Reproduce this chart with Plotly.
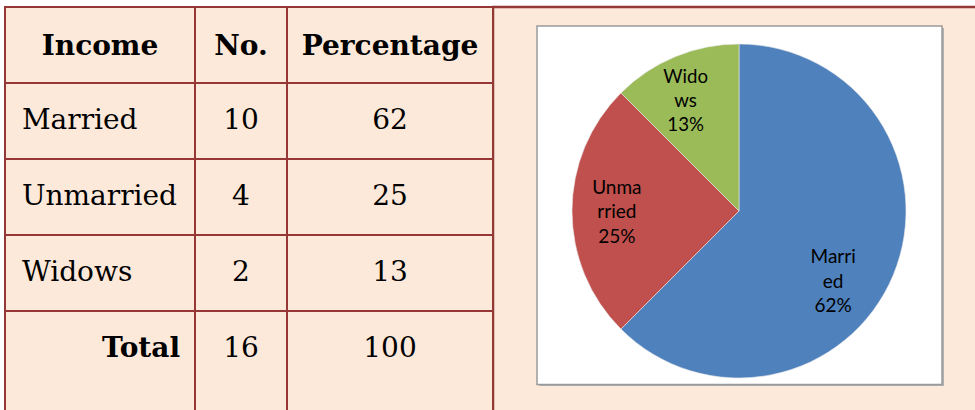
import plotly.graph_objects as go

# data from the table
status = ["Married", "Unmarried", "Widows"]
counts = [10, 4, 2]
pcts = [62, 25, 13]
total_label = "Total"
total_count = 16
total_pct = 100
headers = ["Income", "No.", "Percentage"]

# pie labels are wrapped like in the original chart
pie_labels = [["Marri", "ed"], ["Unma", "rried"], ["Wido", "ws"]]
pie_colors = ["#4F81BD", "#C0504D", "#9BBB59"]

PEACH = "#FDE9D9"
MAROON = "#953735"
W, H = 975, 410
FS = 28      # visible text size in the table
NB = "\u00a0"


def fx(x):
    return x / W


def fy(y):
    return 1 - y / H


def cell(txt, bold=False, indent=0):
    # plotly tables put text at the top of a cell, so a blank first line
    # in the smaller base font moves the real text down to the row middle
    txt = NB * indent + (f"<b>{txt}</b>" if bold else str(txt))
    return f"{NB}<br><span style='font-size:{FS}px'>{txt}</span>"


def pie_text(parts, pct, top=0, left=0, right=0):
    # blank lines / no-break spaces nudge the label inside its slice
    lines = [NB] * top + parts + [f"{pct}%"]
    return "<br>".join(NB * left + s + NB * right if s != NB else s for s in lines)


line = dict(color=MAROON, width=2.5)

fig = go.Figure()

# header + first three rows
fig.add_trace(go.Table(
    domain=dict(x=[fx(5), fx(493)], y=[fy(311), fy(7)]),
    columnwidth=[190, 92, 206],
    header=dict(
        values=[cell(h, bold=True) for h in headers],
        height=76, fill_color=PEACH, line=line, align="center",
        font=dict(family="DejaVu Serif", size=18, color="black"),
    ),
    cells=dict(
        values=[[cell(s, indent=1) for s in status],
                [cell(c) for c in counts],
                [cell(p) for p in pcts]],
        height=76, fill_color=PEACH, line=line,
        align=["left", "center", "center"],
        font=dict(family="DejaVu Serif", size=17, color="black"),
    ),
))

# total row, taller than the picture so its bottom edge is cut off
fig.add_trace(go.Table(
    domain=dict(x=[fx(5), fx(493)], y=[0, fy(311)]),
    columnwidth=[190, 92, 206],
    header=dict(
        values=[cell(total_label, bold=True, indent=10),
                cell(total_count), cell(total_pct)],
        height=130, fill_color=PEACH, line=line,
        align=["left", "center", "center"],
        font=dict(family="DejaVu Serif", size=17, color="black"),
    ),
    cells=dict(values=[[], [], []]),
))

fig.add_trace(go.Pie(
    labels=status,
    values=counts,
    text=[
        pie_text(pie_labels[0], pcts[0], top=3, left=7),
        pie_text(pie_labels[1], pcts[1], right=10),
        pie_text(pie_labels[2], pcts[2], right=3),
    ],
    textinfo="text",
    textposition="inside",
    insidetextorientation="horizontal",
    sort=False,
    direction="clockwise",
    rotation=0,
    marker=dict(colors=pie_colors, line=dict(color="#E8E8E8", width=0.6)),
    textfont=dict(family="Lato", size=19, color="black"),
    hoverinfo="skip",
    domain=dict(x=[fx(572), fx(906)], y=[fy(378), fy(44)]),
    showlegend=False,
))

shapes = [
    # right cell of the table that holds the chart
    dict(type="rect", xref="paper", yref="paper", x0=fx(493), x1=1.01, y0=-0.01, y1=fy(7),
         fillcolor=PEACH, line=dict(color=MAROON, width=2.5), layer="below"),
    # chart area box with a light shadow
    dict(type="rect", xref="paper", yref="paper", x0=fx(539), x1=fx(944), y0=fy(386), y1=fy(28),
         fillcolor="#B0B0B0", line=dict(width=0), layer="below"),
    dict(type="rect", xref="paper", yref="paper", x0=fx(537), x1=fx(942), y0=fy(384.5), y1=fy(26),
         fillcolor="white", line=dict(color="#9A9A9A", width=1.5), layer="below"),
]

fig.update_layout(
    width=W, height=H,
    autosize=False,
    margin=dict(l=0, r=0, t=0, b=0),
    paper_bgcolor="white",
    plot_bgcolor="white",
    shapes=shapes,
)

# drop the default page margin so the figure sits at the window corner
fig.write_html("out.html", config={"displayModeBar": False},
               post_script="document.body.style.margin='0';")
